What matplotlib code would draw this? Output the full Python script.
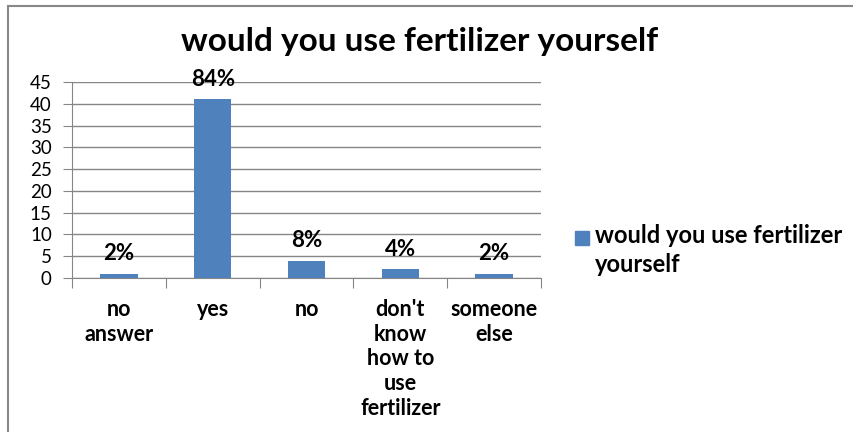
import numpy as np
from matplotlib import pyplot as plt
from matplotlib.patches import Rectangle

# Chart data
categories = ["no\nanswer", "yes", "no", "don't\nknow\nhow to\nuse\nfertilizer", "someone\nelse"]
counts = [1, 41, 4, 2, 1]
pct_labels = ["2%", "84%", "8%", "4%", "2%"]
series_name = "would you use fertilizer\nyourself"
title = "would you use fertilizer yourself"

bar_color = '#4f81bd'
grid_color = '#868686'
plt.rcParams['font.family'] = ['Lato', 'DejaVu Sans']

fig = plt.figure(figsize=(8.54, 4.32), dpi=100)
W, H = 854, 432

# Outer chart frame (left and top edges visible)
fig.patches.append(Rectangle((8 / W, -0.1), 1.2, (H - 6) / H + 0.1, transform=fig.transFigure,
                             fill=False, edgecolor='#888888', linewidth=1.5))

ax = fig.add_axes([72 / W, 1 - 278 / H, (541 - 72) / W, (278 - 82) / H])
x = np.arange(len(categories))
ax.bar(x, counts, width=0.4, color=bar_color, zorder=3)

ax.set_xlim(-0.5, len(categories) - 0.5)
ax.set_ylim(0, 45)
ax.set_yticks(np.arange(0, 46, 5))
ax.yaxis.grid(True, color=grid_color, linewidth=1, zorder=0)

for s in ['top', 'right']:
    ax.spines[s].set_visible(False)
for s in ['left', 'bottom']:
    ax.spines[s].set_color(grid_color)

# Category ticks at boundaries, labels centred under bars
ax.set_xticks(np.arange(-0.5, len(categories)), minor=False)
ax.set_xticklabels([])
ax.set_xticks(x, minor=True)
ax.set_xticklabels(categories, minor=True, fontsize=15.5, fontweight='bold',
                   linespacing=1.22, va='top')
ax.tick_params(axis='x', which='major', length=7, color=grid_color)
ax.tick_params(axis='x', which='minor', length=0, pad=15)
ax.tick_params(axis='y', length=6.5, color=grid_color, labelsize=13.5, pad=8)

# Percentage labels above bars
for xi, c, lab in zip(x, counts, pct_labels):
    ax.text(xi, c + 4.6, lab, ha='center', va='center', fontsize=16,
            fontweight='bold', zorder=4)

fig.text(420 / W, 1 - 41 / H, title, ha='center', va='center',
         fontsize=24, fontweight='bold')

# Legend
fig.patches.append(Rectangle((575 / W, 1 - 245 / H), 14 / W, 14 / H,
                             transform=fig.transFigure, color=bar_color))
fig.text(595 / W, 1 - 250 / H, series_name, ha='left', va='center',
         fontsize=17, fontweight='bold', linespacing=1.32)

fig.savefig('out.png', dpi=100)
